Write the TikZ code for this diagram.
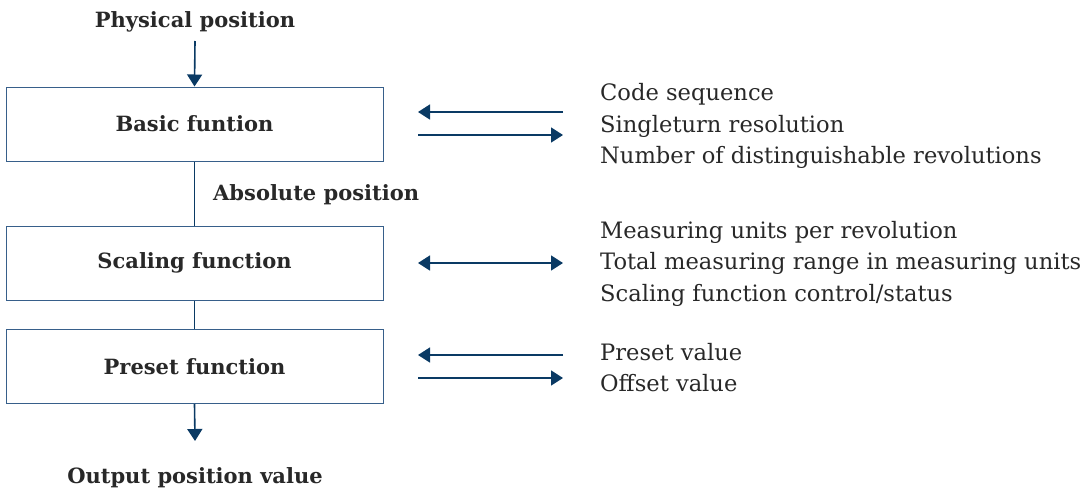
\documentclass[tikz,border=0pt]{standalone}
\usepackage{fontspec}
\setmainfont{DejaVu Serif}
\usetikzlibrary{arrows.meta}

\definecolor{navy}{RGB}{10,58,100}
\definecolor{boxline}{RGB}{55,95,138}
\definecolor{txt}{RGB}{40,40,40}

\tikzset{
    funcbox/.style={draw=boxline, line width=1pt, minimum width=377pt, minimum height=74pt, inner sep=0pt, text=txt, font=\fontsize{21}{25}\selectfont\bfseries},
    title/.style={inner sep=0pt, text=txt, font=\fontsize{21}{25}\selectfont\bfseries},
    param/.style={inner sep=0pt, anchor=west, align=left, text=txt, font=\fontsize{22.6}{31.5}\selectfont},
    flow/.style={navy, line width=1.6pt},
    tip/.style={-{Triangle[width=15pt,length=12pt]}}
}

\begin{document}
\begin{tikzpicture}[x=1pt,y=-1pt]
    \useasboundingbox (0,0) rectangle (1084,493);

    %input and boxes
    \node [title] (phys) at (195,22) {Physical position};
    \node [funcbox] (basic) at (194.5,124) {Basic funtion};
    \node [funcbox] (scale) at (194.5,263) {Scaling function};
    \node [funcbox] (preset) at (194.5,366.5) {Preset function};
    \node [title] (out) at (195,478) {Output position value};
    \node [title, anchor=west] (abs) at (213,195) {Absolute position};

    \coordinate (physend) at (195,41);
    \draw [flow, tip] (physend) -- (basic.north);
    \draw [flow] (basic) -- (scale);
    \draw [flow] (scale) -- (preset);
    \coordinate (outtip) at (195,441);
    \draw [flow, tip] (preset.south) -- (outtip);

    %parameters
    \node [param] (p1) at (600,126) {Code sequence\\Singleturn resolution\\Number of distinguishable revolutions};
    \node [param] (p2) at (600,263.5) {Measuring units per revolution\\Total measuring range in measuring units\\Scaling function control/status};
    \node [param] (p3) at (600,367.5) {Preset value\\Offset value};

    \coordinate (a1) at (418,112);  \coordinate (b1) at (563,112);
    \coordinate (a2) at (418,135);  \coordinate (b2) at (563,135);
    \coordinate (a3) at (418,263);  \coordinate (b3) at (563,263);
    \coordinate (a4) at (418,355);  \coordinate (b4) at (563,355);
    \coordinate (a5) at (418,378);  \coordinate (b5) at (563,378);

    \draw [flow, tip] (b1) -- (a1);
    \draw [flow, tip] (a2) -- (b2);
    \draw [flow, {Triangle[width=15pt,length=12pt]}-{Triangle[width=15pt,length=12pt]}] (a3) -- (b3);
    \draw [flow, tip] (b4) -- (a4);
    \draw [flow, tip] (a5) -- (b5);
\end{tikzpicture}
\end{document}
